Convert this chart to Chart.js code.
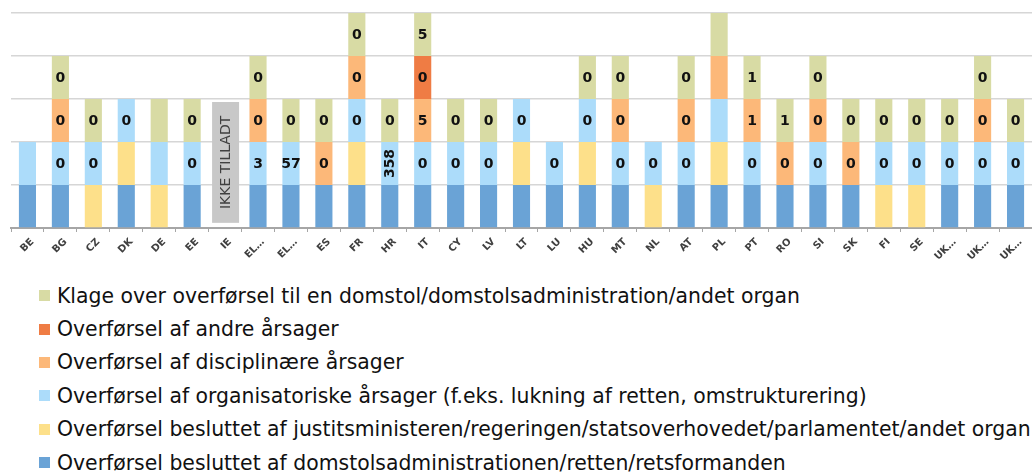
<!DOCTYPE html>
<html>
<head>
<meta charset="utf-8">
<script src="https://cdn.jsdelivr.net/npm/chart.js@4/dist/chart.umd.min.js"></script>
<style>
  body { margin: 0; background: #fff; width: 1032px; height: 475px; overflow: hidden; position: relative; }
  #wrap { position: absolute; left: 0; top: 0; width: 1032px; height: 268px; }
  #legende { position: absolute; left: 39px; top: 279px; font-family: 'DejaVu Sans', sans-serif; font-size: 20.4px; color: #111; }
  .item { height: 33.4px; display: flex; align-items: center; white-space: nowrap; }
  .carre { width: 11px; height: 11px; margin-right: 7px; flex: none; }
</style>
</head>
<body>
<div id="wrap"><canvas id="graphique"></canvas></div>
<div id="legende"></div>
<script>
// pays (axe X)
const pays = ['BE','BG','CZ','DK','DE','EE','IE','EL…','EL…','ES','FR','HR','IT','CY','LV','LT','LU','HU','MT','NL','AT','PL','PT','RO','SI','SK','FI','SE','UK…','UK…','UK…'];

// presence de chaque type de transfert (1 = oui, 0 = non)
const domstolsadm  = [1,1,0,1,0,1,0,1,1,1,1,1,1,1,1,1,1,1,1,0,1,1,1,1,1,1,0,0,1,1,1];
const justitsmin   = [0,0,1,1,1,0,0,0,0,0,1,0,0,0,0,1,0,1,0,1,0,1,0,0,0,0,1,1,0,0,0];
const organisat    = [1,1,1,1,1,1,0,1,1,0,1,1,1,1,1,1,1,1,1,1,1,1,1,0,1,0,1,1,1,1,1];
const disciplin    = [0,1,0,0,0,0,0,1,0,1,1,0,1,0,0,0,0,0,1,0,1,1,1,1,1,1,0,0,0,1,0];
const andre        = [0,0,0,0,0,0,0,0,0,0,0,0,1,0,0,0,0,0,0,0,0,0,0,0,0,0,0,0,0,0,0];
const klage        = [0,1,1,0,1,1,0,1,1,1,1,1,1,1,1,0,0,1,1,0,1,1,1,1,1,1,1,1,1,1,1];

// nombres affiches dans les segments (null = pas d'etiquette)
const etiqDomstolsadm = Array(31).fill(null);
const etiqJustitsmin  = Array(31).fill(null);
const etiqOrganisat   = [null,'0','0','0',null,'0',null,'3','57',null,'0','358','0','0','0','0','0','0','0','0','0',null,'0',null,'0',null,'0','0','0','0','0'];
const etiqDisciplin   = [null,'0',null,null,null,null,null,'0',null,'0','0',null,'5',null,null,null,null,null,'0',null,'0',null,'1','0','0','0',null,null,null,'0',null];
const etiqAndre       = [null,null,null,null,null,null,null,null,null,null,null,null,'0',null,null,null,null,null,null,null,null,null,null,null,null,null,null,null,null,null,null];
const etiqKlage       = [null,'0','0',null,null,'0',null,'0','0','0','0','0','5','0','0',null,null,'0','0',null,'0',null,'1','1','0','0','0','0','0','0','0'];

const series = [
  { nom: 'Overførsel besluttet af domstolsadministrationen/retten/retsformanden', data: domstolsadm, etiq: etiqDomstolsadm, couleur: '#6aa3d6' },
  { nom: 'Overførsel besluttet af justitsministeren/regeringen/statsoverhovedet/parlamentet/andet organ', data: justitsmin, etiq: etiqJustitsmin, couleur: '#fde08a' },
  { nom: 'Overførsel af organisatoriske årsager (f.eks. lukning af retten, omstrukturering)', data: organisat, etiq: etiqOrganisat, couleur: '#acdcfa' },
  { nom: 'Overførsel af disciplinære årsager', data: disciplin, etiq: etiqDisciplin, couleur: '#fcb879' },
  { nom: 'Overførsel af andre årsager', data: andre, etiq: etiqAndre, couleur: '#ef7c44' },
  { nom: 'Klage over overførsel til en domstol/domstolsadministration/andet organ', data: klage, etiq: etiqKlage, couleur: '#d8dba4' }
];

// legende en HTML (ordre inverse, comme dans l'original)
const leg = document.getElementById('legende');
series.slice().reverse().forEach(s => {
  const d = document.createElement('div');
  d.className = 'item';
  d.innerHTML = '<span class="carre" style="background:' + s.couleur + '"></span>' + s.nom;
  leg.appendChild(d);
});

// etiquettes dans les barres
const pluginEtiquettes = {
  id: 'etiquettes',
  afterDatasetsDraw(chart) {
    const ctx = chart.ctx;
    ctx.save();
    ctx.fillStyle = '#111';
    ctx.font = 'bold 14px "DejaVu Sans"';
    ctx.textAlign = 'center';
    ctx.textBaseline = 'middle';
    chart.data.datasets.forEach((ds, i) => {
      const meta = chart.getDatasetMeta(i);
      meta.data.forEach((bar, j) => {
        const t = ds.etiq[j];
        if (t === null || !ds.data[j]) return;
        const y = (bar.y + bar.base) / 2;
        if (t.length > 2) {
          ctx.save();
          ctx.translate(bar.x, y);
          ctx.rotate(-Math.PI / 2);
          ctx.fillText(t, 0, 1);
          ctx.restore();
        } else {
          ctx.fillText(t, bar.x, y + 1);
        }
      });
    });
    // case "IKKE TILLADT" pour l'Irlande
    const xs = chart.scales.x, ys = chart.scales.y;
    const cx = xs.getPixelForValue(6);
    const haut = ys.getPixelForValue(2.93), bas = ys.getPixelForValue(0.12);
    ctx.fillStyle = '#c8c8c8';
    ctx.fillRect(cx - 13, haut, 27, bas - haut);
    ctx.fillStyle = '#404040';
    ctx.font = '14px "DejaVu Sans"';
    ctx.translate(cx + 0.5, (haut + bas) / 2);
    ctx.rotate(-Math.PI / 2);
    ctx.fillText('IKKE TILLADT', 0, 1);
    ctx.restore();
  }
};

new Chart(document.getElementById('graphique'), {
  type: 'bar',
  data: {
    labels: pays,
    datasets: series.map(s => ({
      label: s.nom,
      data: s.data.map(v => v ? v : null),
      etiq: s.etiq,
      backgroundColor: s.couleur,
      barPercentage: 0.52,
      categoryPercentage: 1
    }))
  },
  options: {
    responsive: true,
    maintainAspectRatio: false,
    animation: false,
    layout: { padding: { left: 11, right: 0, top: 13, bottom: 0 } },
    plugins: { legend: { display: false }, tooltip: { enabled: false } },
    scales: {
      x: {
        stacked: true,
        afterFit: scale => { scale.height = 40; },
        grid: { drawOnChartArea: false, drawTicks: true, tickLength: 4, color: '#a6a6a6', offset: true },
        border: { color: '#a6a6a6', width: 2 },
        ticks: { autoSkip: false, maxRotation: 45, minRotation: 45, padding: 4, labelOffset: 5, color: '#404040',
                 font: { family: 'DejaVu Sans', size: 10, weight: 'bold' } }
      },
      y: {
        stacked: true,
        min: 0,
        max: 5,
        z: 1,
        afterFit: scale => { scale.width = 0; },
        ticks: { display: false, stepSize: 1 },
        grid: { color: '#d6d6d6', lineWidth: 1.5, drawTicks: false },
        border: { display: false }
      }
    }
  },
  plugins: [pluginEtiquettes]
});
</script>
</body>
</html>
